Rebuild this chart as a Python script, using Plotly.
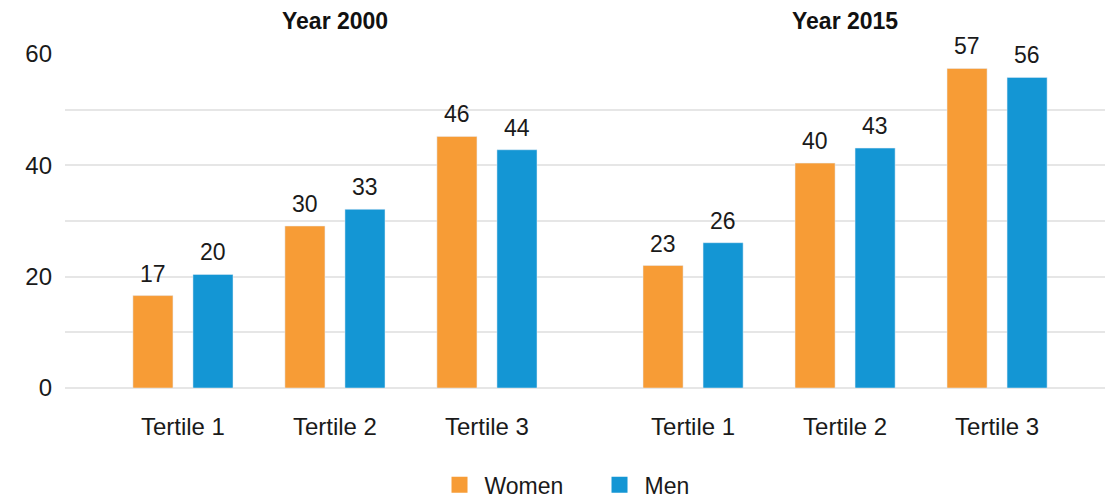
import plotly.graph_objects as go
from plotly.subplots import make_subplots

tertiles = ["Tertile 1", "Tertile 2", "Tertile 3"]
years = ["Year 2000", "Year 2015"]
women_2000 = [16.6, 29.1, 45.2]
men_2000 = [20.4, 32.1, 42.8]
women_2015 = [22.0, 40.4, 57.4]
men_2015 = [26.1, 43.1, 55.8]
women_2000_lbl = ["17", "30", "46"]
men_2000_lbl = ["20", "33", "44"]
women_2015_lbl = ["23", "40", "57"]
men_2015_lbl = ["26", "43", "56"]

orange = "#F79C36"
blue = "#1496D4"
font = "Liberation Sans, Arial, Helvetica, sans-serif"

fig = make_subplots(rows=1, cols=2, shared_yaxes=True, horizontal_spacing=0)

panels = [(women_2000, men_2000, women_2000_lbl, men_2000_lbl),
          (women_2015, men_2015, women_2015_lbl, men_2015_lbl)]
for col, (w, m, wl, ml) in enumerate(panels, start=1):
    fig.add_trace(go.Bar(x=tertiles, y=w, name="Women", marker_color=orange,
                         showlegend=False), row=1, col=col)
    fig.add_trace(go.Bar(x=tertiles, y=m, name="Men", marker_color=blue,
                         showlegend=False), row=1, col=col)
    xr = "x" if col == 1 else "x2"
    for i, t in enumerate(tertiles):
        fig.add_annotation(x=t, y=w[i], xref=xr, yref="y", text=wl[i], showarrow=False,
                           xshift=-30, yshift=22, font=dict(size=23, color="#1a1a1a"))
        fig.add_annotation(x=t, y=m[i], xref=xr, yref="y", text=ml[i], showarrow=False,
                           xshift=30, yshift=22, font=dict(size=23, color="#1a1a1a"))
    fig.add_annotation(x="Tertile 2", y=1.1, xref=xr, yref="paper", text="<b>" + years[col - 1] + "</b>",
                       showarrow=False, yanchor="middle", font=dict(size=23, color="#111"))

# legend entries with larger square swatches
for name, c in [("Women", orange), ("Men", blue)]:
    fig.add_trace(go.Scatter(x=[None], y=[None], mode="markers", name=name,
                             marker=dict(symbol="square", size=26, color=c)), row=1, col=1)

grid = "#e6e6e6"
# the page body adds an 8px offset, so the figure is 16px smaller than the window
fig.update_layout(
    width=1105, height=491,
    margin=dict(l=57, r=3, t=46, b=111, autoexpand=False),
    plot_bgcolor="white", paper_bgcolor="white",
    font=dict(family=font, size=24, color="#1a1a1a"),
    barmode="group", bargap=0.21, bargroupgap=0.333,
    legend=dict(orientation="h", x=0.3536, xanchor="left", y=-0.29, yanchor="middle",
                font=dict(size=23), itemwidth=40, entrywidth=105, traceorder="normal"),
    xaxis=dict(domain=[0, 0.5024], range=[-0.776, 2.678]),
    xaxis2=dict(domain=[0.5024, 1], range=[-0.678, 2.743]),
)
fig.update_xaxes(showgrid=False, zeroline=False, showline=False, ticks="", automargin=False,
                 ticklabelstandoff=22, tickfont=dict(size=24))
fig.update_yaxes(range=[0, 60], tickvals=[0, 20, 40, 60], showgrid=True, gridcolor=grid,
                 gridwidth=2, zeroline=True, zerolinecolor=grid, zerolinewidth=2,
                 minor=dict(dtick=10, showgrid=True, gridcolor=grid, gridwidth=2),
                 showline=False, ticks="", automargin=False, ticklabelstandoff=12,
                 tickfont=dict(size=24))
fig.update_yaxes(showticklabels=False, row=1, col=2)

fig.write_html("out.html")
